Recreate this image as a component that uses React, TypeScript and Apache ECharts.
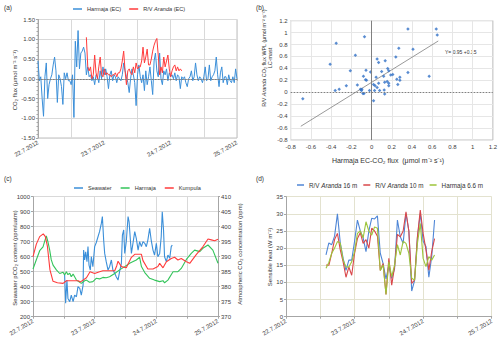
import React, { useEffect, useRef } from 'react';
import * as echarts from 'echarts';

const DAY_LABELS = ['22.7.2012', '23.7.2012', '24.7.2012', '25.7.2012'];

// (a) half-hourly CO2 flux (index * 0.5 h from 22.7.2012 00:00)
const HARMAJA_EC = [
  0.45, -0.05, 0.05, -0.5, -0.95, 0.05, 0.4, -0.5, -0.15, 0.0,
  0.1, 0.35, 0.55, 0.2, -0.6, 0.1, 0.0, -0.2, -0.65, 0.15,
  0.0, 0.15, -0.05, -0.05, -0.15, 0.1, -0.98, 0.95, 0.3, 1.22,
  0.25, 0.65, 0.7, 0.8, 0.65, 0.1, 0.3, 0.05, 0.1, -0.05,
  0.05, -0.15, 0.1, 0.05, -0.1, 0.2, 0.0, 0.3, 0.1, 0.25,
  0.05, -0.25, 0.1, 0.2, -0.05, 0.1, 0.05, -0.1, 0.05, 0.0,
  -0.05, 0.1, 0.4, 0.2, 0.05, -0.1, -0.35, 0.0, 0.25, 0.1,
  -0.1, -0.68, 0.1, 0.35, 0.05, -0.1, 0.1, -0.3, 0.2, -0.15,
  0.05, 0.3, -0.05, -0.4, 0.45, 0.65, 0.2, 0.05, 0.65, 0.0,
  -0.15, 0.2, 0.1, 0.25, -0.05, 0.15, 0.05, 0.1, 0.0, 0.15,
  -0.05, 0.1, 0.05, -0.25, 0.05, 0.0, 0.05, -0.1, -0.2, 0.0,
  0.05, 0.2, -0.05, 0.05, 0.4, 0.1, -0.05, 0.05, 0.0, -0.1,
  0.05, 0.3, -0.05, 0.0, 0.35, -0.05, 0.05, 0.1, 0.2, 0.55,
  0.1, -0.2, 0.15, 0.3, -0.1, 0.05, 0.05, -0.15, 0.1, -0.05,
  -0.1, 0.05, -0.1, 0.25, 0.0,
];
const ARANDA_EC_START = 35;
const ARANDA_EC = [
  1.05, 0.3, 0.2, 0.3, 0.0, 0.1, 0.6, 0.15, 0.0, 0.3,
  0.55, 0.1, 0.05, 0.25, 0.1, 0.15, 0.1, 0.1, 0.05, 0.1,
  0.1, 0.15, 0.05, 0.15, 0.15, 0.25, 0.45, 0.7, 0.2, -0.15,
  0.2, 0.25, 0.15, 0.1, 0.3, 0.15, 0.4, 0.25, 0.3, 0.3,
  0.45, 0.8, 0.4, 0.55, 0.75, 0.35, 0.35, 0.5, 0.7, 0.85,
  0.95, 1.02, 0.6, 0.1, 0.3, 0.15, 0.55, 0.3, 0.45, 0.6,
  0.25, 0.05, 0.2, 0.3, 0.35, 0.2, 0.3, 0.2, 0.25, 0.2,
];

// (b) scatter
const SCATTER_X = [
  -0.68, -0.35, -0.41, -0.36, -0.32, -0.25, -0.21, -0.16, -0.07, -0.14,
  -0.11, -0.1, -0.095, -0.085, -0.075, -0.08, -0.055, -0.06, -0.05, -0.01,
  -0.02, 0.02, 0.02, 0.035, 0.045, 0.055, 0.07, 0.055, 0.07, 0.08,
  0.03, 0.1, 0.12, 0.13, 0.125, 0.135, 0.13, 0.155, 0.16, 0.17,
  0.17, 0.17, 0.19, 0.21, 0.24, 0.25, 0.26, 0.27, 0.28, 0.28,
  0.36, 0.36, 0.41, 0.57, 0.64, 0.65,
];
const SCATTER_Y = [
  -0.11, 0.82, 0.47, 0.03, 0.05, 0.11, 0.36, 0.62, 0.93, 0.12,
  0.05, 0.03, 0.05, -0.02, -0.02, 0.27, 0.37, 0.21, 0.2, 0.34,
  0.03, -0.14, 0.13, 0.11, 0.25, 0.56, 0.5, 0.08, 0.15, 0.03,
  0.03, 0.35, 0.27, -0.03, 0.04, 0.53, 0.17, 0.18, 0.4, 0.36,
  0.15, 0.11, 0.29, 0.3, 0.59, 0.22, 0.13, 0.74, 0.25, 0.2,
  1.06, 0.33, 0.72, 0.27, 1.06, 0.96,
];
const FIT_X = [-0.7, 0.66];
const FIT_Y = [-0.57, 0.86];

// (c) hours from 22.7.2012 00:00
const SEA_H = [
  12.3, 12.7, 13.2, 13.6, 14.3, 14.9, 15.6, 16.2, 16.9, 17.5, 18.2, 18.8, 19.5, 19.7, 20.1, 20.5,
  21.0, 21.4, 21.8, 22.3, 22.7, 23.3, 24.0, 24.6, 25.3, 25.9, 26.6, 27.0, 27.5, 27.9, 28.5, 29.2,
  29.8, 30.5, 31.1, 31.8, 32.4, 33.1, 33.7, 34.4, 34.8, 35.3, 35.7, 36.3, 37.0, 37.4, 37.9, 38.3,
  38.9, 39.6, 40.2, 40.9, 41.5, 42.2, 42.8, 43.5, 44.1, 44.7, 45.4, 46.0, 46.7, 47.3, 48.0, 48.6,
  49.3, 49.9, 50.3, 50.8, 51.2, 51.9, 52.5, 53.2, 53.8, 54.2,
];
const SEA_V = [
  480, 290, 444, 322, 300, 344, 300, 344, 333, 400, 389, 344, 411, 644, 578, 633,
  567, 667, 544, 511, 600, 533, 667, 693, 733, 767, 822, 867, 711, 622, 567, 511,
  533, 578, 511, 489, 467, 444, 500, 556, 744, 778, 622, 700, 867, 833, 711, 622,
  689, 767, 722, 644, 700, 667, 700, 689, 667, 711, 789, 711, 644, 611, 689, 600,
  622, 733, 900, 778, 600, 567, 611, 589, 667, 678,
];
const HAR_H = [
  0, 1.3, 2.6, 3.9, 4.5, 5.2, 5.8, 6.5, 7.1, 7.8, 9.1, 10.4, 11.7, 12.3, 13.0, 13.6,
  14.3, 14.9, 15.6, 16.9, 18.8, 20.1, 20.8, 22.0, 23.3, 24.6, 25.9, 27.2, 28.5, 29.8, 31.8, 33.7,
  35.7, 37.6, 40.2, 41.5, 42.2, 43.5, 45.4, 47.3, 49.3, 50.6, 51.2, 52.5, 54.5, 56.4, 57.7, 59.7,
  61.6, 62.9, 64.9, 66.1, 68.1, 70.0, 72.0,
];
const HAR_V = [
  385.9, 389.0, 392.0, 393.3, 395.0, 396.9, 395.0, 392.2, 389.0, 387.2, 385.6, 384.4, 384.8, 383.9, 385.0, 384.0,
  384.5, 383.3, 384.2, 382.2, 381.1, 382.0, 382.2, 381.5, 381.7, 382.8, 382.6, 383.1, 383.0, 383.3, 384.4, 385.6,
  386.7, 387.8, 388.9, 389.8, 386.7, 384.7, 382.8, 382.2, 381.7, 382.0, 381.3, 382.2, 385.0, 385.0, 386.1, 389.1,
  391.1, 392.2, 391.7, 392.8, 393.9, 392.2, 387.8,
];
const KUM_H = [
  0, 1.3, 2.6, 4.0, 4.8, 5.6, 6.6, 7.8, 9.5, 11.7, 13.0, 17.6, 18.5, 20.8, 22.2, 24.0,
  25.9, 27.2, 31.8, 32.6, 33.1, 34.4, 36.3, 38.3, 39.6, 42.2, 42.8, 44.7, 46.7, 48.6, 49.3, 50.6,
  51.9, 53.8, 55.1, 56.4, 57.7, 59.7, 61.0, 63.6, 66.1, 68.1, 69.4, 70.7, 72.0,
];
const KUM_V = [
  390.0, 394.2, 396.7, 397.6, 396.7, 393.5, 385.6, 381.8, 381.3, 381.1, 382.0, 382.0, 381.6, 383.0, 385.0, 384.4,
  385.0, 385.3, 385.3, 387.0, 388.5, 386.7, 386.3, 389.8, 390.8, 390.8, 388.7, 385.9, 385.9, 386.7, 387.8, 386.3,
  388.3, 389.4, 389.8, 388.9, 389.4, 388.3, 387.8, 390.8, 393.3, 395.9, 395.6, 395.3, 395.8,
];

// (d) hourly sensible heat
const HEAT_H = [
  14, 15, 16, 17, 18, 19, 20, 21, 22, 23, 24, 25, 26, 27, 28, 29, 30, 31, 32, 33,
  34, 35, 36, 37, 38, 39, 40, 41, 42, 43, 44, 45, 46, 47, 48, 49, 50, 51, 52,
];
const ARANDA_16 = [
  18.0, 21.5, 21.0, 23.5, 30.0, 21.5, 17.0, 13.5, 16.5, 16.5, 22.0, 28.2, 25.0, 23.0, 19.0, 25.0, 28.7, 28.5, 29.4, 18.5,
  15.5, 11.0, 15.0, 11.2, 14.0, 28.2, 23.3, 21.4, 30.1, 25.0, 7.5, 10.5, 23.0, 30.1, 22.0, 20.5, 11.5, 17.5, 28.2,
];
const ARANDA_10 = [
  15.1, 15.0, 18.5, 22.5, 24.3, 19.5, 16.0, 11.5, 14.5, 12.1, 18.5, 22.8, 24.5, 21.4, 22.5, 20.0, 25.8, 25.0, 23.5, 13.5,
  15.5, 6.5, 17.0, 9.2, 14.5, 24.0, 23.3, 25.0, 30.6, 25.0, 9.7, 10.7, 23.3, 31.1, 24.3, 19.4, 13.6, 19.0, 22.8,
];
const HARMAJA_66 = [
  14.1, 15.8, 18.5, 20.0, 21.9, 21.5, 16.5, 14.5, 14.5, 16.0, 19.0, 24.3, 25.0, 23.0, 27.7, 25.0, 23.8, 26.2, 25.8, 13.5,
  15.1, 6.5, 16.0, 11.7, 15.1, 21.0, 18.0, 22.0, 21.4, 18.5, 11.2, 10.7, 21.4, 27.2, 17.0, 14.6, 17.5, 16.5, 18.0,
];

const FONT = 'Liberation Sans, Arial, sans-serif';
const TXT = '#404040';

const pairs = (xs: number[], ys: (number | null)[]) => xs.map((x, i) => [x, ys[i]]);

function timeAxis(gridIndex: number, gridColor: string) {
  return {
    type: 'value',
    gridIndex,
    min: 0,
    max: 72,
    interval: 12,
    axisLabel: {
      formatter: (v: number) => (v % 24 === 0 ? DAY_LABELS[v / 24] : ''),
      rotate: 30,
      fontSize: 6,
      color: TXT,
      fontFamily: FONT,
      margin: 4,
      showMinLabel: true,
      showMaxLabel: true,
    },
    axisTick: { show: true, length: 2, lineStyle: { color: '#a6a6a6' } },
    axisLine: { show: true, lineStyle: { color: '#a6a6a6', width: 1 } },
    splitLine: { show: true, lineStyle: { color: gridColor, width: 1 } },
  };
}

function lineSeries(name: string, xi: number, yi: number, data: any[], color: string, width = 1) {
  return {
    type: 'line',
    name,
    xAxisIndex: xi,
    yAxisIndex: yi,
    data,
    showSymbol: false,
    symbol: 'none',
    color,
    lineStyle: { color, width },
    connectNulls: false,
  };
}

const legendText = (size: number) => ({
  fontSize: size,
  color: '#333',
  fontFamily: FONT,
  rich: { i: { fontStyle: 'italic', fontSize: size, color: '#333', fontFamily: FONT } },
});
const italicAranda = (name: string) => name.replace('Aranda', '{i|Aranda}');

export default function App() {
  const ref = useRef<HTMLDivElement>(null);
  useEffect(() => {
    if (!ref.current) return;
    const chart = echarts.init(ref.current, undefined, { renderer: 'svg' });
    const yLabel = (fmt: (v: number) => string) => ({
      fontSize: 6,
      color: TXT,
      fontFamily: FONT,
      margin: 3,
      formatter: fmt,
    });
    const option: any = {
      animation: false,
      backgroundColor: '#ffffff',
      textStyle: { fontFamily: FONT },
      grid: [
        { left: 38, top: 19.5, width: 199, height: 118.5, show: true, borderColor: '#bfbfbf', borderWidth: 1, backgroundColor: 'transparent' },
        { left: 290.7, top: 20.7, width: 203.3, height: 119.3, show: true, borderColor: '#bfbfbf', borderWidth: 1, backgroundColor: 'transparent' },
        { left: 33, top: 196.7, width: 185, height: 120 },
        { left: 286, top: 196.7, width: 205.7, height: 120 },
      ],
      xAxis: [
        timeAxis(0, '#d9d9d9'),
        {
          type: 'value', gridIndex: 1, min: -0.8, max: 1.2, interval: 0.2,
          axisLabel: { ...yLabel((v: number) => String(Math.round(v * 10) / 10)), margin: 4 },
          axisLine: { show: false, onZero: false }, axisTick: { show: false },
          splitLine: { show: true, lineStyle: { color: '#e6e6e6' } },
        },
        timeAxis(2, '#d9d9d9'),
        timeAxis(3, '#e3e2cf'),
      ],
      yAxis: [
        {
          type: 'value', gridIndex: 0, min: -1.5, max: 1.5, interval: 0.5,
          axisLabel: yLabel((v: number) => v.toFixed(2)),
          axisLine: { show: true, onZero: false, lineStyle: { color: '#a6a6a6' } },
          axisTick: { show: true, length: 2, lineStyle: { color: '#a6a6a6' } },
          minorTick: { show: true, splitNumber: 5, length: 1.5, lineStyle: { color: '#a6a6a6' } },
          splitLine: { show: true, lineStyle: { color: '#d9d9d9' } },
        },
        {
          type: 'value', gridIndex: 1, min: -0.8, max: 1.2, interval: 0.2,
          axisLabel: yLabel((v: number) => String(Math.round(v * 10) / 10)),
          axisLine: { show: false, onZero: false }, axisTick: { show: false },
          splitLine: { show: true, lineStyle: { color: '#e6e6e6' } },
        },
        {
          type: 'value', gridIndex: 2, min: 200, max: 1000, interval: 100, position: 'left',
          axisLabel: yLabel((v: number) => String(v)),
          axisLine: { show: true, onZero: false, lineStyle: { color: '#a6a6a6' } },
          axisTick: { show: true, length: 2, lineStyle: { color: '#a6a6a6' } },
          splitLine: { show: true, lineStyle: { color: '#d9d9d9' } },
        },
        {
          type: 'value', gridIndex: 2, min: 370, max: 410, interval: 5, position: 'right',
          axisLabel: yLabel((v: number) => String(v)),
          axisLine: { show: true, onZero: false, lineStyle: { color: '#a6a6a6' } },
          axisTick: { show: true, length: 2, lineStyle: { color: '#a6a6a6' } },
          splitLine: { show: false },
        },
        {
          type: 'value', gridIndex: 3, min: 0, max: 35, interval: 5,
          axisLabel: yLabel((v: number) => String(v)),
          axisLine: { show: true, onZero: false, lineStyle: { color: '#a6a6a6' } },
          axisTick: { show: true, length: 2, lineStyle: { color: '#a6a6a6' } },
          splitLine: { show: true, lineStyle: { color: '#e3e2cf' } },
        },
      ],
      legend: [
        {
          data: ['Harmaja (EC)', 'R/V Aranda (EC)'], left: 73, top: 6, icon: 'rect',
          itemWidth: 9, itemHeight: 1.5, itemGap: 8, padding: 0,
          formatter: italicAranda, textStyle: legendText(5.6),
        },
        {
          data: ['Seawater', 'Harmaja', 'Kumpula'], left: 74, top: 185, icon: 'rect',
          itemWidth: 9, itemHeight: 1.5, itemGap: 9, padding: 0,
          textStyle: legendText(5.6),
        },
        {
          data: ['R/V Aranda 16 m', 'R/V Aranda 10 m', 'Harmaja 6.6 m'], left: 297, top: 182, width: 200, icon: 'rect',
          itemWidth: 7, itemHeight: 1.5, itemGap: 6, padding: 0,
          formatter: italicAranda, textStyle: legendText(6.3),
        },
      ],
      series: [
        {
          ...lineSeries('Harmaja (EC)', 0, 0, HARMAJA_EC.map((v, i) => [i * 0.5, v]), '#3b8fd9', 1),
          markLine: {
            silent: true, symbol: 'none', label: { show: false },
            lineStyle: { color: '#7f7f7f', type: [1.5, 1.5], width: 1 },
            data: [{ yAxis: 0 }],
          },
        },
        lineSeries('R/V Aranda (EC)', 0, 0, ARANDA_EC.map((v, i) => [(i + ARANDA_EC_START) * 0.5, v]), '#ff3b3b', 1),
        {
          type: 'scatter', name: 'scatter', xAxisIndex: 1, yAxisIndex: 1,
          data: pairs(SCATTER_X, SCATTER_Y), symbol: 'diamond', symbolSize: 3.5,
          itemStyle: { color: '#2f6fc6' },
          markLine: {
            silent: true, symbol: 'none', label: { show: false },
            data: [
              { xAxis: 0, lineStyle: { color: '#808080', type: 'solid', width: 1 } },
              { yAxis: 0, lineStyle: { color: '#808080', type: [1.5, 1.5], width: 1 } },
            ],
          },
        },
        {
          type: 'line', name: 'fit', xAxisIndex: 1, yAxisIndex: 1,
          data: pairs(FIT_X, FIT_Y), showSymbol: false, symbol: 'none',
          lineStyle: { color: '#7f7f7f', width: 0.8 }, z: 1,
        },
        lineSeries('Seawater', 2, 2, pairs(SEA_H, SEA_V), '#3b8fd9', 1.1),
        lineSeries('Harmaja', 2, 3, pairs(HAR_H, HAR_V), '#33c45a', 1.1),
        lineSeries('Kumpula', 2, 3, pairs(KUM_H, KUM_V), '#ff3b3b', 1.1),
        lineSeries('R/V Aranda 16 m', 3, 4, pairs(HEAT_H, ARANDA_16), '#4f86d6', 1.1),
        lineSeries('R/V Aranda 10 m', 3, 4, pairs(HEAT_H, ARANDA_10), '#d9474a', 1.1),
        lineSeries('Harmaja 6.6 m', 3, 4, pairs(HEAT_H, HARMAJA_66), '#9dc43a', 1.1),
      ],
      graphic: [
        { type: 'text', left: 4, top: 4, style: { text: '(a)', fontSize: 6.5, fill: '#333', fontFamily: FONT } },
        { type: 'text', left: 256, top: 4, style: { text: '(b)', fontSize: 6.5, fill: '#333', fontFamily: FONT } },
        { type: 'text', left: 4, top: 175, style: { text: '(c)', fontSize: 6.5, fill: '#333', fontFamily: FONT } },
        { type: 'text', left: 256, top: 175, style: { text: '(d)', fontSize: 6.5, fill: '#333', fontFamily: FONT } },
        {
          type: 'text', x: 15, y: 80, rotation: Math.PI / 2,
          style: { text: 'CO₂ flux (μmol m⁻² s⁻¹)', fontSize: 6, fill: '#333', fontFamily: FONT, align: 'center', verticalAlign: 'middle' },
        },
        {
          type: 'text', x: 267, y: 58, rotation: Math.PI / 2,
          style: {
            text: 'R/V {i|Aranda} CO₂ flux WPL (μmol m⁻² s⁻¹)\nLC-mast',
            rich: { i: { fontStyle: 'italic', fontSize: 5.4, fill: '#333', fontFamily: FONT } },
            fontSize: 5.4, lineHeight: 6.5, fill: '#333', fontFamily: FONT, align: 'center', verticalAlign: 'middle',
          },
        },
        {
          type: 'text', x: 388, y: 160,
          style: { text: 'Harmaja EC-CO₂ flux  (μmol m⁻² s⁻¹)', fontSize: 7, fill: '#333', fontFamily: FONT, align: 'center', verticalAlign: 'middle' },
        },
        {
          type: 'text', x: 445, y: 52,
          style: { text: 'Y= 0.95 +0.15', fontSize: 5, fill: '#333', fontFamily: FONT, align: 'left', verticalAlign: 'middle' },
        },
        {
          type: 'text', x: 15, y: 258, rotation: Math.PI / 2,
          style: { text: 'Seawater pCO₂ content (ppm/uatm)', fontSize: 6, fill: '#333', fontFamily: FONT, align: 'center', verticalAlign: 'middle' },
        },
        {
          type: 'text', x: 240, y: 254, rotation: Math.PI / 2,
          style: { text: 'Atmospheric CO₂ concentration (ppm)', fontSize: 6, fill: '#333', fontFamily: FONT, align: 'center', verticalAlign: 'middle' },
        },
        {
          type: 'text', x: 270, y: 257, rotation: Math.PI / 2,
          style: { text: 'Sensible heat (W m⁻²)', fontSize: 6, fill: '#333', fontFamily: FONT, align: 'center', verticalAlign: 'middle' },
        },
      ],
    };
    chart.setOption(option);
    return () => chart.dispose();
  }, []);
  return <div ref={ref} style={{ position: 'fixed', left: 0, top: 0, width: 500, height: 340, background: '#fff' }} />;
}
